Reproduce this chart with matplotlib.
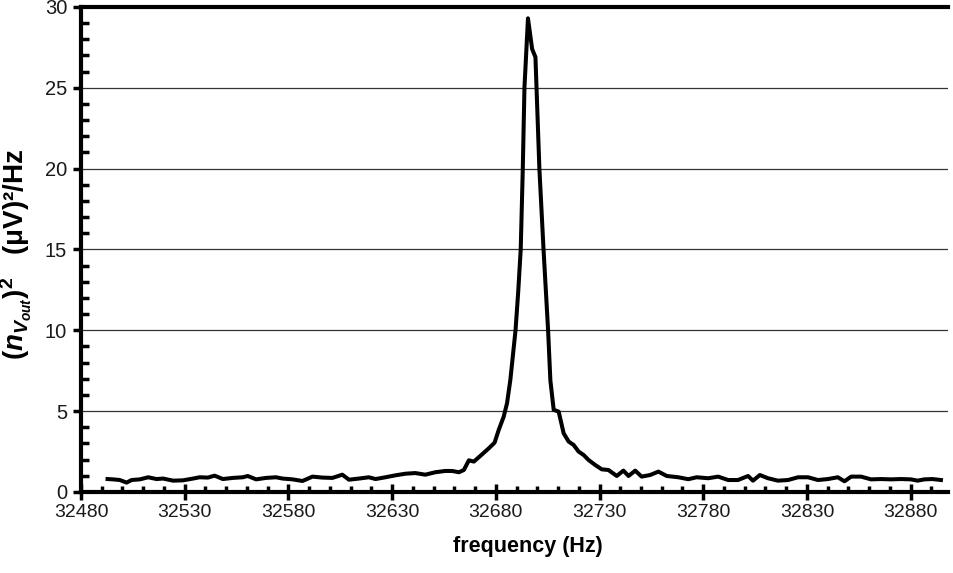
import numpy as np
import matplotlib.pyplot as plt
from matplotlib.ticker import MultipleLocator

plt.rcParams['font.family'] = ['Liberation Sans', 'DejaVu Sans']
plt.rcParams['mathtext.fontset'] = 'custom'
plt.rcParams['mathtext.it'] = 'Liberation Sans:bold:italic'
plt.rcParams['mathtext.rm'] = 'Liberation Sans:bold'
plt.rcParams['mathtext.bf'] = 'Liberation Sans:bold'

# frequency (Hz) and noise density (uV^2/Hz)
freq = [32492.8, 32495.5, 32498.7, 32502.0, 32504.4, 32508.4, 32512.4, 32516.4,
        32519.6, 32524.4, 32529.2, 32534.0, 32537.2, 32541.2, 32544.4, 32548.4,
        32553.2, 32558.0, 32560.4, 32564.4, 32569.2, 32574.0, 32577.2, 32582.0,
        32586.8, 32591.6, 32596.4, 32601.2, 32606.0, 32609.2, 32614.0, 32618.8,
        32622.0, 32626.8, 32631.6, 32636.4, 32641.2, 32646.0, 32650.8, 32655.6,
        32659.0, 32662.2, 32664.6, 32667.0, 32669.4, 32672.6, 32676.6, 32679.4,
        32681.4, 32683.8, 32685.4, 32687.0, 32689.5, 32690.8, 32692.0, 32693.0,
        32693.8, 32695.5, 32697.5, 32699.1, 32701.0, 32703.0, 32705.2, 32706.3,
        32707.9, 32710.3, 32712.7, 32715.1, 32717.5, 32719.9, 32722.3, 32724.7,
        32727.9, 32731.1, 32734.3, 32738.3, 32741.5, 32744.0, 32747.2, 32750.3,
        32754.4, 32758.4, 32762.4, 32768.0, 32772.8, 32776.8, 32782.4, 32787.2,
        32792.0, 32796.8, 32801.6, 32804.0, 32807.3, 32811.2, 32816.0, 32820.9,
        32825.7, 32830.5, 32835.3, 32840.1, 32844.9, 32848.1, 32851.3, 32856.1,
        32860.9, 32865.7, 32870.5, 32875.3, 32880.1, 32883.4, 32886.6, 32890.5,
        32894.6]
psd = [0.80, 0.78, 0.74, 0.58, 0.74, 0.78, 0.91, 0.80,
       0.83, 0.70, 0.72, 0.83, 0.91, 0.89, 1.01, 0.80,
       0.87, 0.91, 0.99, 0.78, 0.87, 0.91, 0.83, 0.78,
       0.68, 0.95, 0.89, 0.87, 1.07, 0.76, 0.83, 0.91,
       0.80, 0.91, 1.03, 1.13, 1.17, 1.07, 1.22, 1.30,
       1.30, 1.22, 1.36, 1.96, 1.88, 2.24, 2.70, 3.05,
       3.84, 4.66, 5.49, 6.93, 10.0, 12.4, 15.0, 20.0,
       25.0, 29.3, 27.4, 26.9, 20.0, 15.0, 10.0, 6.9,
       5.08, 4.97, 3.63, 3.12, 2.91, 2.50, 2.29, 1.98,
       1.67, 1.40, 1.36, 0.99, 1.32, 0.99, 1.32, 0.95,
       1.05, 1.26, 0.99, 0.91, 0.79, 0.91, 0.85, 0.95,
       0.74, 0.74, 0.99, 0.70, 1.05, 0.85, 0.70, 0.74,
       0.91, 0.91, 0.74, 0.80, 0.91, 0.66, 0.95, 0.95,
       0.78, 0.80, 0.78, 0.80, 0.78, 0.70, 0.78, 0.80,
       0.74]

fig = plt.figure(figsize=(9.54, 5.73), dpi=100)
ax = fig.add_axes([0.0849, 0.1414, 0.9088, 0.8464])

ax.plot(freq, psd, color='black', lw=2.9, solid_joinstyle='round', zorder=3)

ax.set_xlim(32480, 32898)
ax.set_ylim(0, 30)
ax.xaxis.set_minor_locator(MultipleLocator(10))
ax.yaxis.set_major_locator(MultipleLocator(5))
ax.yaxis.set_minor_locator(MultipleLocator(1))
ax.set_xticks(np.arange(32480, 32881, 50))
ax.xaxis.set_major_formatter(plt.FuncFormatter(lambda v, p: '%d' % v))

ax.grid(axis='y', which='major', color='#333333', lw=0.9)
ax.set_axisbelow(True)

for s in ['left', 'bottom', 'top']:
    ax.spines[s].set_linewidth(3)
ax.spines['right'].set_visible(False)

ax.tick_params(axis='x', which='major', direction='inout', length=11.5, width=2.5,
               labelsize=14, pad=3, labelcolor='#1a1a1a')
ax.tick_params(axis='x', which='minor', direction='in', length=4.5, width=2.5)
ax.tick_params(axis='y', which='major', direction='out', length=6, width=2.5,
               labelsize=14.5, pad=4, labelcolor='#1a1a1a')
ax.tick_params(axis='y', which='minor', direction='in', length=6, width=2.5)

ax.set_xlabel('frequency (Hz)', fontsize=15.5, fontweight='bold')
ax.xaxis.set_label_coords(0.5155, -0.09)
ax.set_ylabel(r'$(n_{V_{out}})^2$   (μV)²/Hz', fontsize=20, fontweight='bold')
ax.yaxis.set_label_coords(-0.054, 0.49)

fig.savefig('out.png', dpi=100)
